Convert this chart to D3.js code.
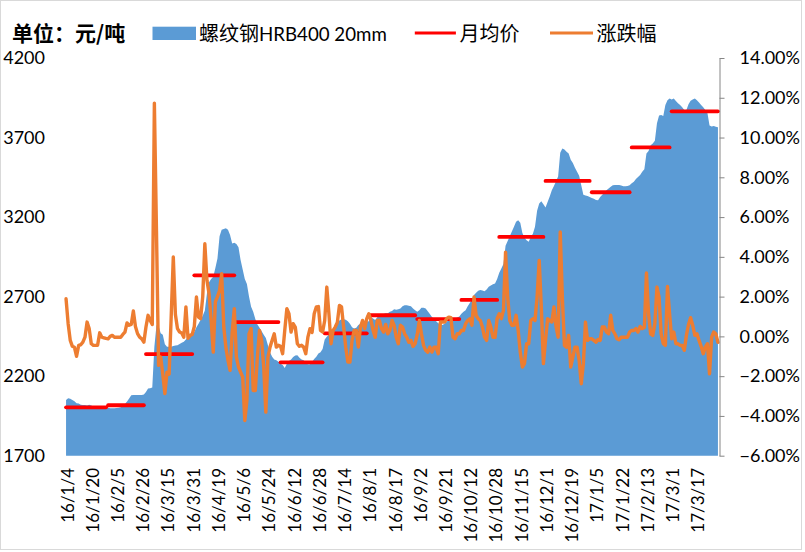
<!DOCTYPE html>
<html><head><meta charset="utf-8">
<script src="https://cdn.jsdelivr.net/npm/d3@7"></script>
<style>
html,body{margin:0;padding:0;background:#fff;}
svg{display:block;}
</style></head>
<body>
<svg id="chart" width="805" height="552"></svg>
<script>
// ---------------- data ----------------
const tickLabels = ["16/1/4","16/1/20","16/2/5","16/2/26","16/3/15","16/3/31","16/4/19","16/5/6","16/5/24","16/6/12","16/6/28","16/7/14","16/8/1","16/8/17","16/9/2","16/9/21","16/10/12","16/10/28","16/11/15","16/12/1","16/12/19","17/1/5","17/1/22","17/2/13","17/3/1","17/3/17"];
const tickEvery = 12; // trading days between labels
// trading days per month, 2016-01 .. 2017-03
const monthDays = [20,18,23,20,21,21,21,23,21,18,22,22,19,19,23];
// monthly average price (元/吨)
const monthAvg = [2004,2017,2339,2834,2540,2287,2469,2583,2559,2679,3075,3427,3356,3638,3865];
// 螺纹钢HRB400 20mm daily price (元/吨)
const price = [
2050,2061,2058,2050,2042,2030,2028,2020,2018,2018,2016,2020,
2016,2010,2008,2008,2006,2006,2005,2005,2002,1998,1998,1998,
2000,2002,2005,2010,2025,2040,2060,2080,2082,2082,2082,2082,
2082,2085,2100,2122,2124,2128,2385,2520,2515,2469,2460,2400,
2385,2385,2385,2390,2392,2395,2402,2410,2417,2430,2445,2459,
2465,2478,2508,2530,2555,2580,2612,2720,2790,2810,2825,2880,
2940,3080,3120,3125,3130,3120,3087,3034,3038,3030,3010,2930,
2870,2810,2780,2700,2637,2605,2560,2525,2505,2482,2460,2440,
2395,2350,2322,2305,2300,2291,2278,2270,2252,2278,2295,2305,
2320,2330,2332,2315,2305,2300,2285,2275,2275,2290,2308,2322,
2343,2350,2370,2430,2448,2460,2465,2480,2510,2535,2550,2557,
2557,2555,2545,2530,2508,2500,2505,2521,2530,2535,2542,2542,
2545,2570,2562,2553,2570,2578,2584,2590,2595,2595,2605,2610,
2620,2617,2620,2626,2640,2645,2645,2643,2640,2626,2615,2605,
2615,2630,2630,2625,2608,2590,2572,2560,2545,2532,2524,2521,
2530,2542,2553,2560,2563,2563,2568,2575,2592,2605,2615,2640,
2660,2680,2710,2725,2737,2741,2738,2733,2745,2762,2770,2778,
2783,2810,2850,2877,2905,3020,3050,3080,3110,3140,3170,3180,
3165,3100,3070,3055,3045,3075,3095,3139,3240,3285,3300,3280,
3260,3295,3330,3369,3395,3425,3455,3605,3631,3625,3610,3600,
3560,3540,3510,3485,3460,3400,3340,3335,3332,3327,3320,3315,
3308,3306,3327,3340,3355,3369,3380,3390,3400,3401,3401,3401,
3398,3394,3394,3396,3400,3412,3422,3440,3452,3464,3485,3500,
3600,3615,3652,3663,3680,3790,3838,3841,3835,3905,3935,3946,
3939,3946,3930,3915,3905,3890,3873,3873,3910,3931,3939,3946,
3935,3920,3905,3890,3873,3855,3775,3770,3772,3768,3764
];
// 涨跌幅 daily change (%)
const change = [
1.89,0.64,-0.2,-0.5,-0.55,-1.0,-0.45,-0.42,-0.29,-0.04,0.72,0.39,
-0.37,-0.45,-0.45,-0.45,0.18,-0.04,-0.07,-0.1,-0.12,0.0,0.05,-0.04,
-0.04,-0.04,-0.04,0.1,0.22,0.68,0.56,0.6,1.28,0.5,0.14,-0.04,
-0.12,-0.29,0.47,1.06,0.8,0.6,11.73,5.3,-1.46,-1.04,-1.9,-2.88,
-1.8,-1.9,1.0,3.99,1.1,0.39,0.22,0.17,-0.04,1.48,-0.1,0.05,
0.1,0.5,1.98,0.97,0.89,2.0,4.66,2.82,2.15,0.8,-0.79,1.73,
2.0,2.31,3.15,0.47,-0.54,-1.2,-1.71,0.2,1.39,-1.04,-1.54,-1.8,
-2.05,-4.23,-3.22,0.13,0.39,-2.72,-2.72,-1.0,0.3,-0.2,-1.54,-3.81,
-1.04,-0.54,-0.2,0.13,-0.54,-0.45,-0.5,-0.87,0.3,1.39,1.14,0.22,
0.64,0.47,-0.37,-0.5,-0.45,-0.54,-0.87,-0.04,0.39,0.2,1.14,1.48,
1.5,0.3,0.22,0.8,2.48,1.14,-0.37,0.3,0.47,0.7,1.56,1.48,
0.47,-0.54,-1.29,-1.29,-0.2,0.3,0.3,-0.54,0.47,0.8,0.39,0.89,
1.14,0.8,0.3,-0.04,0.8,0.8,0.39,0.22,0.6,0.13,0.3,0.8,
0.56,-0.04,-0.37,0.56,0.47,0.13,-0.04,-0.3,-0.2,-0.5,-0.37,0.1,
0.8,0.13,-0.45,-0.7,-0.79,-0.54,-0.79,-0.54,-0.54,-0.87,0.72,0.72,
0.72,0.89,0.97,0.94,-0.04,-0.12,0.13,0.13,0.3,0.3,0.64,0.8,
0.89,0.56,1.98,1.06,0.89,0.8,0.47,-0.04,-0.2,0.8,0.47,-0.04,
-0.04,0.9,1.14,0.89,1.31,4.24,1.97,0.8,0.56,0.56,1.06,0.3,
-0.8,-1.54,-1.37,-0.37,-0.37,0.8,0.89,0.8,1.98,3.82,1.48,-1.37,
-0.2,0.89,0.8,0.72,1.48,0.5,-0.04,5.25,1.98,-0.45,-0.54,0.05,
-1.54,-1.04,-0.54,-0.54,-1.21,-2.38,-1.37,0.72,-0.2,-0.12,-0.12,-0.2,
-0.29,-0.15,-0.2,0.47,0.47,0.22,0.13,1.06,0.3,0.13,-0.12,-0.17,
-0.04,-0.04,-0.04,-0.04,0.22,0.3,0.3,0.39,0.22,0.5,0.39,0.45,
3.19,1.14,0.13,0.05,0.64,2.48,1.98,0.13,-0.37,-0.45,2.51,1.14,
-0.12,0.22,-0.37,-0.37,-0.45,-0.45,-0.7,0.05,0.6,0.94,0.56,0.05,
0.13,-0.2,-0.5,-0.87,-0.54,-0.37,-1.88,-0.04,0.22,0.13,-0.3
];
const leftTicks = [1700,2200,2700,3200,3700,4200];
const rightTicks = [-0.06,-0.04,-0.02,0,0.02,0.04,0.06,0.08,0.10,0.12,0.14];

// ---------------- drawing ----------------
const svg = d3.select("#chart");
const FONT = "Lato, 'Noto Sans CJK SC', sans-serif";
const CJK = "'Noto Sans CJK SC', sans-serif";
const P = {left:65, right:719, top:58, bottom:455.7};
const N = price.length;

svg.append("rect").attr("x",0.5).attr("y",0.5).attr("width",801).attr("height",549)
  .attr("fill","#fff").attr("stroke","#D9D9D9").attr("stroke-width",1);

const x = d3.scaleLinear().domain([-0.5, N-0.5]).range([P.left, P.right]);
const yL = d3.scaleLinear().domain([1700,4200]).range([P.bottom, P.top]);
const yR = d3.scaleLinear().domain([-0.06,0.14]).range([P.bottom, P.top]);

// area
const area = d3.area().x((d,i)=>x(i)).y0(yL(1700)).y1(d=>yL(d));
svg.append("path").datum(price).attr("d",area).attr("fill","#5B9BD5");

// monthly averages
let start = 0;
const segs = monthDays.map((n,k)=>{ const s={a:start,b:start+n-1,v:monthAvg[k]}; start+=n; return s; });
svg.append("g").selectAll("line").data(segs).join("line")
  .attr("x1",d=>x(d.a)).attr("x2",d=>x(d.b))
  .attr("y1",d=>yL(d.v)).attr("y2",d=>yL(d.v))
  .attr("stroke","#FF0000").attr("stroke-width",3.8).attr("stroke-linecap","round");

// change line
const line = d3.line().x((d,i)=>x(i)).y(d=>yR(d/100));
svg.append("path").datum(change).attr("d",line).attr("fill","none")
  .attr("stroke","#ED7D31").attr("stroke-width",3.4).attr("stroke-linejoin","round").attr("stroke-linecap","round");

// left axis
const gL = svg.append("g").attr("transform",`translate(${P.left},0)`)
  .call(d3.axisLeft(yL).tickValues(leftTicks).tickSize(0).tickPadding(20).tickFormat(d3.format("d")));
gL.select(".domain").remove();
gL.selectAll("text").attr("font-family",FONT).attr("font-size",18).attr("fill","#000");

// right axis
const gR = svg.append("g").attr("transform",`translate(${P.right+0.5},0)`)
  .call(d3.axisRight(yR).tickValues(rightTicks).tickSize(5).tickSizeOuter(0).tickPadding(15).tickFormat(d3.format(".2%")));
gR.select(".domain").attr("stroke","#868686");
gR.selectAll(".tick line").attr("stroke","#868686");
gR.selectAll("text").attr("font-family",FONT).attr("font-size",18).attr("fill","#000");

// x labels
const tickIdx = tickLabels.map((t,k)=>k*tickEvery);
svg.append("g").selectAll("text").data(tickLabels).join("text")
  .attr("transform",(d,k)=>`translate(${x(tickIdx[k])+1.5},468) rotate(-90)`)
  .attr("text-anchor","end").attr("dy","0.35em")
  .attr("font-family",FONT).attr("font-size",17).attr("fill","#000")
  .text(d=>d);

// legend
const lg = svg.append("g").attr("font-family",CJK).attr("font-size",20).attr("fill","#000");
lg.append("text").attr("x",12).attr("y",33.5).attr("dy","0.35em").attr("font-weight","bold").attr("font-size",21).text("单位：元/吨");
lg.append("rect").attr("x",152.5).attr("y",26.7).attr("width",43.5).attr("height",13.3).attr("fill","#5B9BD5");
const t1 = lg.append("text").attr("x",199).attr("y",33.5).attr("dy","0.35em");
t1.append("tspan").text("螺纹钢");
t1.append("tspan").attr("font-family",FONT).attr("font-size",18.7).text("HRB400 20mm");
lg.append("line").attr("x1",414.8).attr("x2",455.9).attr("y1",33).attr("y2",33).attr("stroke","#FF0000").attr("stroke-width",3);
lg.append("text").attr("x",459.5).attr("y",33.5).attr("dy","0.35em").text("月均价");
lg.append("line").attr("x1",550).attr("x2",593).attr("y1",33).attr("y2",33).attr("stroke","#ED7D31").attr("stroke-width",3);
lg.append("text").attr("x",596.5).attr("y",33.5).attr("dy","0.35em").text("涨跌幅");
</script>
</body></html>
